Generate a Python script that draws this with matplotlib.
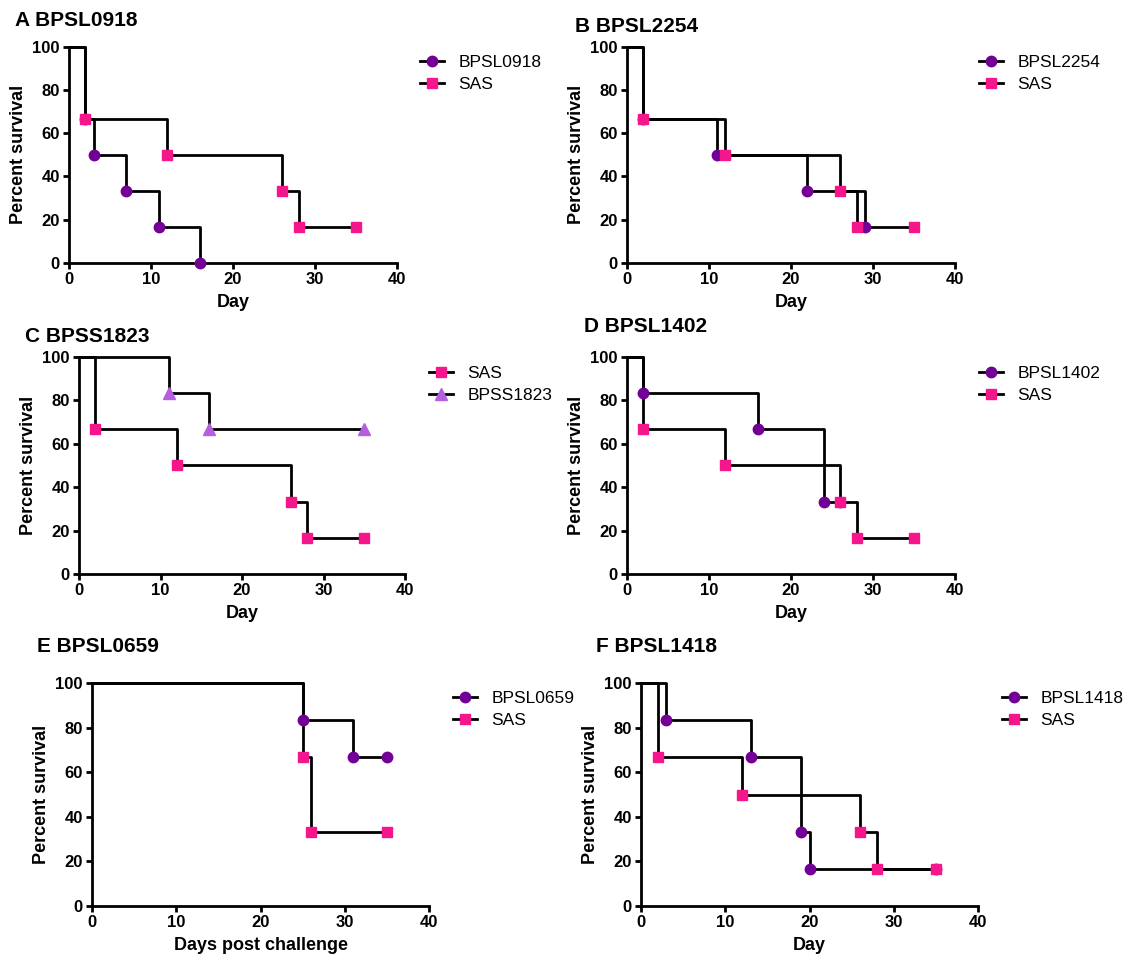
import matplotlib.pyplot as plt
from matplotlib.lines import Line2D

plt.rcParams['font.family'] = ['Liberation Sans', 'DejaVu Sans']

W, H = 1131, 959

# SAS control group (panels A-D, F)
sas_days = [0, 2, 12, 26, 28, 35]
sas_surv = [100, 66.7, 50, 33.3, 16.7, 16.7]

# A
bpsl0918_days = [0, 2, 3, 7, 11, 16]
bpsl0918_surv = [100, 66.7, 50, 33.3, 16.7, 0]

# B
bpsl2254_days = [0, 2, 11, 22, 29]
bpsl2254_surv = [100, 66.7, 50, 33.3, 16.7]

# C
bpss1823_days = [0, 11, 16, 35]
bpss1823_surv = [100, 83.3, 66.7, 66.7]

# D
bpsl1402_days = [0, 2, 16, 24, 26]
bpsl1402_surv = [100, 83.3, 66.7, 33.3, 33.3]

# E (own SAS group)
bpsl0659_days = [0, 25, 31, 35]
bpsl0659_surv = [100, 83.3, 66.7, 66.7]
sas_e_days = [0, 25, 26, 35]
sas_e_surv = [100, 66.7, 33.3, 33.3]

# F
bpsl1418_days = [0, 3, 13, 19, 20, 35]
bpsl1418_surv = [100, 83.3, 66.7, 33.3, 16.7, 16.7]

PURPLE = '#730096'
PINK = '#f5168c'
LILAC = '#b55fe0'

# marker style per group
circ = ('o', PURPLE, 7.5)
sq = ('s', PINK, 7.5)
tri = ('^', LILAC, 8)

# (title, xlabel, axes box in px: left, right, top, bottom, title pos, legend pos, series)
panels = [
    ('A BPSL0918', 'Day', (69, 397, 46.7, 263), (15, 20), (420, 73.5),
     [('BPSL0918', bpsl0918_days, bpsl0918_surv, circ), ('SAS', sas_days, sas_surv, sq)]),
    ('B BPSL2254', 'Day', (627, 955, 46.7, 263), (575, 27), (979, 73.5),
     [('BPSL2254', bpsl2254_days, bpsl2254_surv, circ), ('SAS', sas_days, sas_surv, sq)]),
    ('C BPSS1823', 'Day', (79, 405, 356.7, 574), (25, 336), (429, 384.5),
     [('SAS', sas_days, sas_surv, sq), ('BPSS1823', bpss1823_days, bpss1823_surv, tri)]),
    ('D BPSL1402', 'Day', (627, 955, 356.7, 574), (584, 327), (979, 384.5),
     [('BPSL1402', bpsl1402_days, bpsl1402_surv, circ), ('SAS', sas_days, sas_surv, sq)]),
    ('E BPSL0659', 'Days post challenge', (92, 429, 683, 906), (37, 647), (453, 709.5),
     [('BPSL0659', bpsl0659_days, bpsl0659_surv, circ), ('SAS', sas_e_days, sas_e_surv, sq)]),
    ('F BPSL1418', 'Day', (641, 978, 683, 906), (596, 647), (1002, 709.5),
     [('BPSL1418', bpsl1418_days, bpsl1418_surv, circ), ('SAS', sas_days, sas_surv, sq)]),
]

fig = plt.figure(figsize=(W / 100, H / 100), dpi=100)

for title, xlab, (l, r, t, b), (tx, ty), (lx, ly), series in panels:
    ax = fig.add_axes([l / W, 1 - b / H, (r - l) / W, (b - t) / H])

    handles = []
    for name, days, surv, (m, c, ms) in series:
        ax.step(days, surv, where='post', color='black', lw=2, clip_on=False, zorder=3)
        ax.plot(days[1:], surv[1:], ls='none', marker=m, ms=ms, color=c, mec=c,
                clip_on=False, zorder=4)
        handles.append(Line2D([], [], color='black', lw=2, marker=m, ms=ms, mfc=c, mec=c))

    ax.set_xlim(0, 40)
    ax.set_ylim(0, 100)
    ax.set_xticks(range(0, 41, 10))
    ax.set_yticks(range(0, 101, 20))
    for s in ['top', 'right']:
        ax.spines[s].set_visible(False)
    for s in ['left', 'bottom']:
        ax.spines[s].set_linewidth(2)
    ax.tick_params(width=2, length=4, labelsize=12, pad=2.5)
    for lbl in ax.get_xticklabels() + ax.get_yticklabels():
        lbl.set_fontweight('bold')
    ax.set_xlabel(xlab, fontsize=13, fontweight='bold', labelpad=5)
    ax.set_ylabel('Percent survival', fontsize=13, fontweight='bold', labelpad=4)

    fig.text(tx / W, 1 - ty / H, title, fontsize=15, fontweight='bold', ha='left', va='center')
    fig.legend(handles, [sr[0] for sr in series], loc='center left',
               bbox_to_anchor=(lx / W, 1 - ly / H), frameon=False, borderpad=0,
               borderaxespad=0, handlelength=1.4, handletextpad=0.8,
               labelspacing=0.35, fontsize=12.5)

plt.savefig('out.png', dpi=100)
plt.close()
